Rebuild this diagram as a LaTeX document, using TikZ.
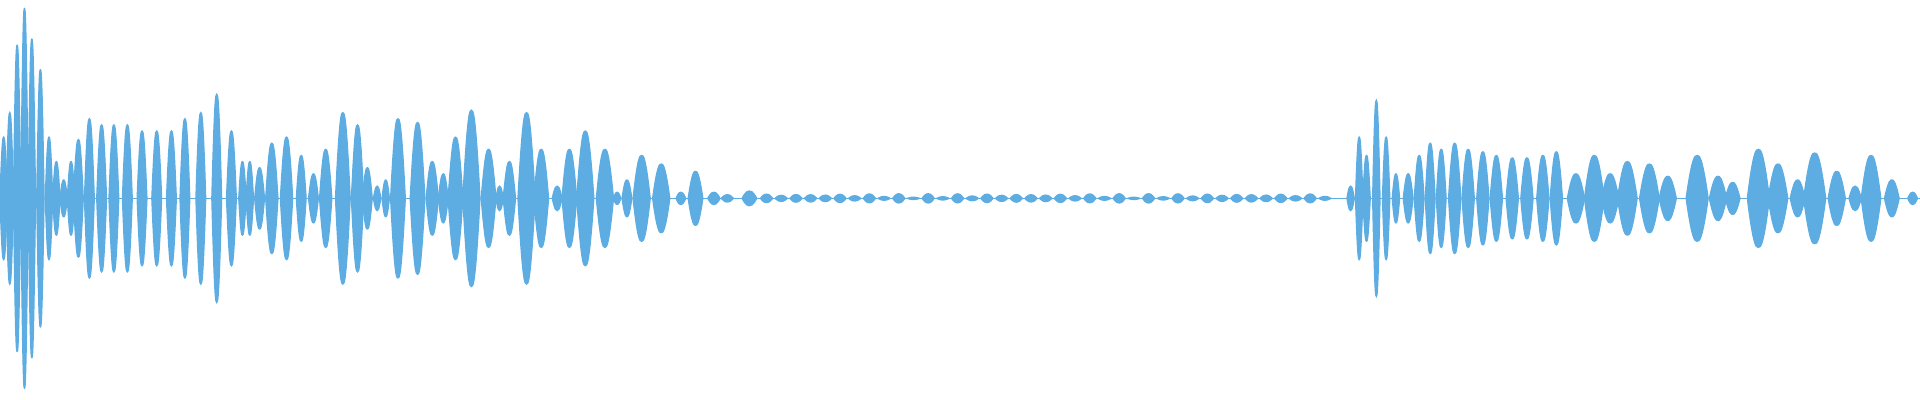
\documentclass[tikz,border=0pt]{standalone}
\definecolor{wave}{RGB}{93,173,226}
\tikzset{lobe/.style={fill=wave,draw=wave,line width=0.3pt}}
% one spindle of the envelope: x, half amplitude, half width
\newcommand{\wavelobe}[3]{%
  \fill[lobe] ({#1-#3},0) .. controls ({#1-0.45*#3},#2) and ({#1-0.2*#3},#2) .. (#1,#2)
    .. controls ({#1+0.2*#3},#2) and ({#1+0.45*#3},#2) .. ({#1+#3},0)
    .. controls ({#1+0.45*#3},-#2) and ({#1+0.2*#3},-#2) .. (#1,-#2)
    .. controls ({#1-0.2*#3},-#2) and ({#1-0.45*#3},-#2) .. cycle;}
\begin{document}
\begin{tikzpicture}[x=0.1mm,y=0.1mm]
\useasboundingbox (0,-164) rectangle (1568,162);

% Center line
\draw[wave,line width=0.4pt] (0,0) -- (1568,0);

% Loud start
\foreach \px/\amp/\hw in {3/50/3,8/70/3,14/125/3,20/155/3,26/130/3,33/105/3,40/50/3,46/30/3,
  52/15/3,58/30/3,64/48/4,73/65/4,83/60/4,93/60/4,104/60/4,116/55/4,128/55/4,140/55/4,
  151/65/4,164/70/4,177/85/4,189/55/4,198/30/3,204/30/3,212/25/4,222/45/5,234/50/5,
  246/35/4,256/20/4,266/40/5,280/70/6,292/60/5,300/25/4,308/10/3,315/15/3,325/65/6,
  341/62/6,353/30/5,362/20/4,372/50/6,385/72/7,399/40/6,408/10/3,416/30/5,430/70/7,
  442/40/6,455/10/4,465/40/6,478/55/7,494/40/7,504/5/3,512/15/4,524/35/7,540/28/7,
  556/5/4,568/22/6,583/5/5,594/3/5,612/6/6}
  {\wavelobe{\px}{\amp}{\hw}}

% Quiet middle
\foreach \px in {626,638,...,1090}
  {\pgfmathsetmacro{\amp}{0.8+3*abs(sin(\px*7))}
   \wavelobe{\px}{\amp}{5}}

% Second burst
\foreach \px/\amp/\hw in {1103/10/3,1110/50/3,1116/35/3,1124/80/3,1132/50/3,1140/20/3,
  1150/20/4,1159/35/4,1168/45/4,1177/40/4,1188/45/5,1199/40/5,1211/38/5,1222/35/5,
  1235/33/5,1247/33/5,1260/35/5,1271/38/5,1287/20/7,1302/35/8,1315/20/7,1329/30/8,
  1347/28/8,1362/18/7,1386/35/9,1403/18/7,1415/13/6,1436/40/9,1452/28/8,1468/15/6,
  1482/37/9,1500/22/7,1515/10/5,1528/35/8,1545/15/6,1562/5/4}
  {\wavelobe{\px}{\amp}{\hw}}
\end{tikzpicture}
\end{document}
